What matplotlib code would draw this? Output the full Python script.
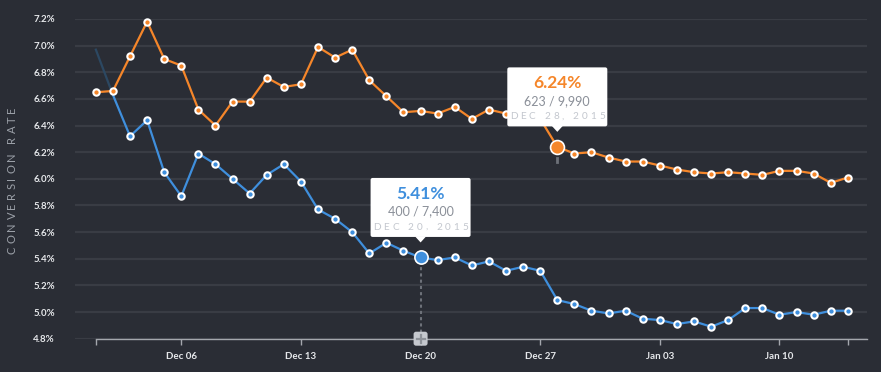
import numpy as np
import pandas as pd
import matplotlib
matplotlib.use("Agg")
import matplotlib.pyplot as plt
import matplotlib.dates as mdates
from matplotlib.patches import FancyBboxPatch, Polygon
from matplotlib.lines import Line2D
from matplotlib.transforms import IdentityTransform

plt.rcParams['font.family'] = ['Lato', 'DejaVu Sans']

# daily values, Dec 01 2015 .. Jan 14 2016
dates = pd.date_range("2015-12-01", "2016-01-14", freq="D")
orange = [6.65, 6.66, 6.92, 7.18, 6.90, 6.85, 6.52, 6.40, 6.58, 6.58,
          6.76, 6.69, 6.71, 6.99, 6.91, 6.97, 6.74, 6.62, 6.50, 6.51,
          6.49, 6.54, 6.45, 6.52, 6.49, 6.48, 6.45, 6.24, 6.19, 6.20,
          6.16, 6.13, 6.13, 6.10, 6.07, 6.05, 6.04, 6.05, 6.04, 6.03,
          6.06, 6.06, 6.04, 5.97, 6.01]
blue = [6.97, 6.63, 6.32, 6.44, 6.05, 5.87, 6.19, 6.11, 6.00, 5.89,
        6.03, 6.11, 5.98, 5.77, 5.70, 5.60, 5.44, 5.52, 5.46, 5.41,
        5.39, 5.41, 5.35, 5.38, 5.31, 5.34, 5.31, 5.09, 5.06, 5.01,
        4.99, 5.01, 4.95, 4.94, 4.91, 4.93, 4.89, 4.94, 5.03, 5.03,
        4.98, 5.00, 4.98, 5.01, 5.01]

yticks = [4.8, 5.0, 5.2, 5.4, 5.6, 5.8, 6.0, 6.2, 6.4, 6.6, 6.8, 7.0, 7.2]
ytick_labels = ["4.8%", "5.0%", "5.2%", "5.4%", "5.6%", "5.8%", "6.0%",
                "6.2%", "6.4%", "6.6%", "6.8%", "7.0%", "7.2%"]
xtick_dates = ["2015-12-01", "2015-12-06", "2015-12-13", "2015-12-20",
               "2015-12-27", "2016-01-03", "2016-01-10", "2016-01-14"]
xtick_labels = ["", "Dec 06", "Dec 13", "Dec 20", "Dec 27", "Jan 03", "Jan 10", ""]

tip_blue = ["5.41%", "400 / 7,400", "DEC 20, 2015"]
tip_orange = ["6.24%", "623 / 9,990", "DEC 28, 2015"]
hl_blue = 19     # Dec 20
hl_orange = 27   # Dec 28

BG = "#2a2d35"
GRID = "#393c44"
BLUE = "#3f8fdd"
BLUE_DIM = "#2c4862"
ORANGE = "#f5862a"
W, H = 881, 372

fig = plt.figure(figsize=(W / 100, H / 100), dpi=100, facecolor=BG)
ax = fig.add_axes([75 / W, (H - 338.7) / H, (867 - 75) / W, (338.7 - 19) / H])
ax.set_facecolor(BG)
ID = IdentityTransform()

x = mdates.date2num(dates)
ax.set_xlim(x[0] - 1.22, x[-1] + 1.12)
ax.set_ylim(4.8, 7.2)

ax.set_yticks(yticks)
ax.set_yticklabels(ytick_labels)
ax.grid(axis="y", color=GRID, lw=1.6)
ax.set_axisbelow(True)
ax.tick_params(axis="y", length=0, pad=14.4, labelsize=7, labelcolor="#e6e8eb")
for lab in ax.get_yticklabels():
    lab.set_fontweight("bold")

ax.set_xticks(mdates.date2num(pd.to_datetime(xtick_dates)))
ax.set_xticklabels(xtick_labels)
ax.tick_params(axis="x", length=4.5, width=1, color="#a4a7ad", pad=5,
               labelsize=7, labelcolor="#e6e8eb")
for lab in ax.get_xticklabels():
    lab.set_fontweight("bold")

for s in ["top", "right", "left"]:
    ax.spines[s].set_visible(False)
ax.spines["bottom"].set_color("#a4a7ad")
ax.spines["bottom"].set_linewidth(1)
ax.spines["bottom"].set_bounds(x[0], ax.get_xlim()[1])

# dotted guide for the hovered day
ax.plot([x[hl_blue], x[hl_blue]], [4.8, blue[hl_blue]], color="#6d7179",
        lw=1.5, dashes=(1.5, 1.5), zorder=2)

# blue series (first stretch faded)
ax.plot(x[:2], blue[:2], color=BLUE_DIM, lw=1.6, zorder=3)
ax.plot(x[1:], blue[1:], color=BLUE, lw=1.6, zorder=3)
ax.plot(x[2:], blue[2:], ls="none", marker="o", ms=4.6, mfc=BLUE, mec="white",
        mew=1.5, zorder=4, clip_on=False)

# orange series
ax.plot(x, orange, color=ORANGE, lw=1.6, zorder=5)
ax.plot(x, orange, ls="none", marker="o", ms=4.6, mfc=ORANGE, mec="white",
        mew=1.5, zorder=6, clip_on=False)

# highlighted points
ax.plot(x[hl_blue], blue[hl_blue], marker="o", ms=9.5, mfc=BLUE, mec="white",
        mew=1.2, zorder=7)
ax.plot(x[hl_orange], orange[hl_orange], marker="o", ms=10, mfc=ORANGE, mec="white",
        mew=1.2, zorder=7)

renderer = fig.canvas.get_renderer()


def tracked(s, cx, cy, length, rotation=0, **kw):
    widths = []
    for ch in s:
        if ch == " ":
            widths.append(kw["fontsize"] * 0.3 * 100 / 72)
        else:
            t = fig.text(0, 0, ch, **kw)
            widths.append(t.get_window_extent(renderer).width)
            t.remove()
    track = (length - sum(widths)) / (len(s) - 1)
    pos = -length / 2
    for ch, w in zip(s, widths):
        c = pos + w / 2
        if ch != " ":
            if rotation:
                fig.text(cx, cy + c, ch, rotation=90, ha="center", va="center",
                         transform=ID, **kw)
            else:
                fig.text(cx + c, cy, ch, ha="center", va="baseline",
                         transform=ID, **kw)
        pos += w + track


def tooltip(px, py, lines, color):
    bw, bh = 100, 59
    bottom = py + 20.5
    box = FancyBboxPatch((px - bw / 2, bottom), bw, bh,
                         boxstyle="round,pad=0,rounding_size=2",
                         fc="white", ec="none", transform=ID, zorder=10)
    fig.patches.append(box)
    tri = Polygon([(px - 5.5, bottom + 0.5), (px + 5.5, bottom + 0.5), (px, bottom - 5.5)],
                  closed=True, fc="white", ec="none", transform=ID, zorder=10)
    fig.patches.append(tri)
    top = bottom + bh
    fig.text(px, top - 16, lines[0], ha="center", va="center", fontsize=12.5,
             fontweight="bold", color=color, transform=ID, zorder=11)
    fig.text(px, top - 33.5, lines[1], ha="center", va="center", fontsize=9,
             color="#8a8f98", transform=ID, zorder=11)
    tracked(lines[2], px, top - 48.5 - 3.5, 95, fontsize=7.2, color="#c3c7ce",
            zorder=11)


bx, by = ax.transData.transform((x[hl_blue], blue[hl_blue]))
ox, oy = ax.transData.transform((x[hl_orange], orange[hl_orange]))
tooltip(bx, by, tip_blue, BLUE)
tooltip(ox, oy, tip_orange, ORANGE)

# stub of the orange guide
fig.lines.append(Line2D([ox, ox], [oy - 11.5, oy - 15], color="#6d7179", lw=2,
                        transform=ID))

# plus handle on the axis
_, y0 = ax.transData.transform((x[hl_blue], 4.8))
fig.patches.append(FancyBboxPatch((bx - 7, y0 - 7), 14, 14,
                                  boxstyle="round,pad=0,rounding_size=2.5",
                                  fc="#c5c8ce", ec="none", transform=ID, zorder=10))
fig.lines.append(Line2D([bx - 4, bx + 4], [y0, y0], color="#8e9299", lw=1.6,
                        transform=ID, zorder=11))
fig.lines.append(Line2D([bx, bx], [y0 - 4, y0 + 4], color="#8e9299", lw=1.6,
                        transform=ID, zorder=11))

tracked("CONVERSION RATE", 12, H - 180, 147, rotation=90, fontsize=8,
        color="#9ca1a9")

fig.savefig("out.png", dpi=100, facecolor=BG)
